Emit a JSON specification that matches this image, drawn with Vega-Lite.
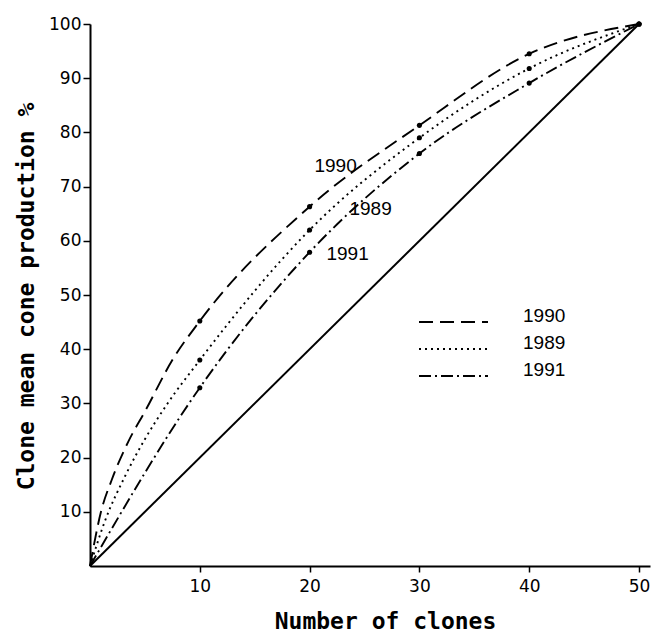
{
  "$schema": "https://vega.github.io/schema/vega-lite/v6.json",
  "width": 560,
  "height": 542,
  "autosize": {"type": "none"},
  "padding": {"left": 90, "top": 24, "right": 6, "bottom": 68},
  "background": "white",
  "config": {"view": {"stroke": null}, "font": "DejaVu Sans"},
  "datasets": {
    "curves": [
      {"year": "1990", "clones": 0, "pct": 0},
      {"year": "1990", "clones": 1, "pct": 10},
      {"year": "1990", "clones": 2, "pct": 16},
      {"year": "1990", "clones": 3.5, "pct": 23},
      {"year": "1990", "clones": 5, "pct": 28.5},
      {"year": "1990", "clones": 7.5, "pct": 38},
      {"year": "1990", "clones": 10, "pct": 45.2},
      {"year": "1990", "clones": 20, "pct": 66.3},
      {"year": "1990", "clones": 30, "pct": 81.3},
      {"year": "1990", "clones": 40, "pct": 94.5},
      {"year": "1990", "clones": 50, "pct": 100},
      {"year": "1989", "clones": 0, "pct": 0},
      {"year": "1989", "clones": 1.4, "pct": 8.5},
      {"year": "1989", "clones": 3.2, "pct": 16.6},
      {"year": "1989", "clones": 5, "pct": 23.4},
      {"year": "1989", "clones": 7, "pct": 29.8},
      {"year": "1989", "clones": 10, "pct": 38},
      {"year": "1989", "clones": 20, "pct": 62},
      {"year": "1989", "clones": 30, "pct": 79},
      {"year": "1989", "clones": 40, "pct": 91.8},
      {"year": "1989", "clones": 50, "pct": 100},
      {"year": "1991", "clones": 0, "pct": 0},
      {"year": "1991", "clones": 10, "pct": 32.9},
      {"year": "1991", "clones": 20, "pct": 57.9},
      {"year": "1991", "clones": 30, "pct": 76.1},
      {"year": "1991", "clones": 40, "pct": 89.1},
      {"year": "1991", "clones": 50, "pct": 100}
    ],
    "diag": [
      {"clones": 0, "pct": 0},
      {"clones": 50, "pct": 100}
    ]
  },
  "encoding": {
    "x": {
      "field": "clones",
      "type": "quantitative",
      "scale": {"domain": [0, 51], "nice": false, "zero": true},
      "axis": {
        "values": [10, 20, 30, 40, 50],
        "title": "Number of clones",
        "grid": false,
        "domainColor": "black",
        "domainWidth": 2,
        "tickColor": "black",
        "tickWidth": 1.5,
        "tickSize": 6,
        "labelFont": "DejaVu Sans",
        "labelFontSize": 17,
        "labelColor": "black",
        "labelPadding": 6,
        "titleFont": "DejaVu Sans Mono",
        "titleFontSize": 23,
        "titleFontWeight": "bold",
        "titleColor": "black",
        "titleX": 295,
        "titleY": 55,
        "titleAlign": "center",
        "titleBaseline": "middle"
      }
    },
    "y": {
      "field": "pct",
      "type": "quantitative",
      "scale": {"domain": [0, 100], "nice": false},
      "axis": {
        "values": [10, 20, 30, 40, 50, 60, 70, 80, 90, 100],
        "title": "Clone mean cone production %",
        "grid": false,
        "domainColor": "black",
        "domainWidth": 2,
        "tickColor": "black",
        "tickWidth": 1.5,
        "tickSize": 7,
        "labelFont": "DejaVu Sans",
        "labelFontSize": 17,
        "labelColor": "black",
        "labelPadding": 2,
        "titleFont": "DejaVu Sans Mono",
        "titleFontSize": 23,
        "titleFontWeight": "bold",
        "titleColor": "black",
        "titleX": -64,
        "titleY": 272,
        "titleAngle": 270,
        "titleAlign": "center",
        "titleBaseline": "middle"
      }
    }
  },
  "layer": [
    {
      "data": {"name": "diag"},
      "mark": {"type": "line", "color": "black", "strokeWidth": 2}
    },
    {
      "data": {"name": "curves"},
      "mark": {"type": "line", "color": "black", "strokeWidth": 1.9, "interpolate": "monotone", "strokeCap": "butt"},
      "encoding": {
        "strokeDash": {
          "field": "year",
          "type": "nominal",
          "scale": {"domain": ["1990", "1989", "1991"], "range": [[14, 7], [2, 4], [12, 4, 2, 4]]},
          "legend": {
            "title": null,
            "orient": "none",
            "legendX": 328,
            "legendY": 288,
            "direction": "vertical",
            "symbolType": "stroke",
            "symbolSize": 4761,
            "symbolStrokeWidth": 1.9,
            "symbolStrokeColor": "black",
            "clipHeight": 20,
            "rowPadding": 2,
            "labelOffset": 34,
            "labelFont": "Liberation Sans",
            "labelFontSize": 19,
            "labelColor": "black",
            "labelBaseline": "alphabetic",
            "padding": 0
          }
        }
      }
    },
    {
      "data": {"name": "curves"},
      "transform": [{"filter": "datum.clones > 0 && datum.clones % 10 == 0"}],
      "mark": {"type": "circle", "color": "black", "opacity": 1, "size": 26}
    },
    {
      "data": {"name": "curves"},
      "transform": [{"filter": "datum.year == '1990' && datum.clones == 20"}],
      "mark": {"type": "text", "font": "Liberation Sans", "fontSize": 19, "color": "black", "align": "center", "baseline": "middle", "dx": 26, "dy": -41},
      "encoding": {"text": {"field": "year"}}
    },
    {
      "data": {"name": "curves"},
      "transform": [{"filter": "datum.year == '1989' && datum.clones == 20"}],
      "mark": {"type": "text", "font": "Liberation Sans", "fontSize": 19, "color": "black", "align": "center", "baseline": "middle", "dx": 61, "dy": -21},
      "encoding": {"text": {"field": "year"}}
    },
    {
      "data": {"name": "curves"},
      "transform": [{"filter": "datum.year == '1991' && datum.clones == 20"}],
      "mark": {"type": "text", "font": "Liberation Sans", "fontSize": 19, "color": "black", "align": "center", "baseline": "middle", "dx": 38, "dy": 2},
      "encoding": {"text": {"field": "year"}}
    }
  ]
}
